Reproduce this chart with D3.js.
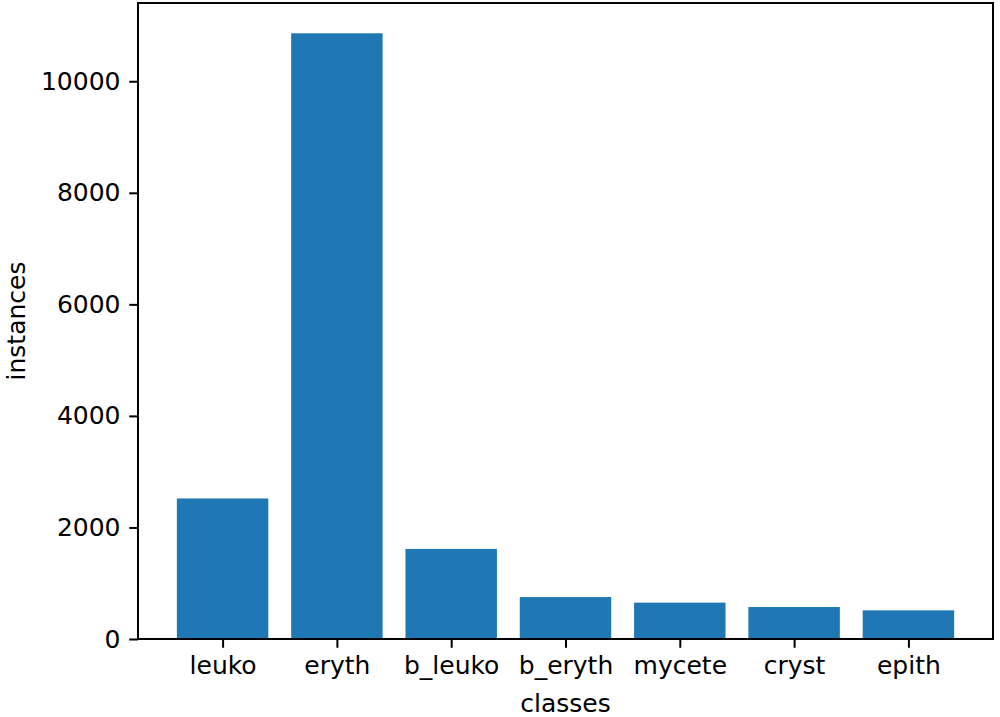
<!DOCTYPE html>
<html>
<head>
<meta charset="utf-8">
<script src="https://cdn.jsdelivr.net/npm/d3@7"></script>
<style>
  body { margin: 0; background: #fff; }
  text { font-family: "DejaVu Sans", sans-serif; fill: #000; }
</style>
</head>
<body>
<div class="vis"></div>
<script>
const classes = ["leuko", "eryth", "b_leuko", "b_eryth", "mycete", "cryst", "epith"];
const instances = [2520, 10860, 1615, 752, 652, 573, 514];
const yTicks = [0, 2000, 4000, 6000, 8000, 10000];

const W = 1000, H = 717;
const margin = { top: 3, right: 7, bottom: 78, left: 138 };
const width = W - margin.left - margin.right;
const height = H - margin.top - margin.bottom;
const fontSize = 25;

const svg = d3.select(".vis")
  .append("svg")
  .attr("width", W)
  .attr("height", H);

const g = svg.append("g")
  .attr("transform", "translate(" + margin.left + "," + margin.top + ")");

// matplotlib-like linear x with 5% margins around bars of width 0.8
const x = d3.scaleLinear()
  .domain([-0.4 - 0.34, classes.length - 1 + 0.4 + 0.34])
  .range([0, width]);

const y = d3.scaleLinear()
  .domain([0, d3.max(instances) * 1.05])
  .range([height, 0]);

g.append("g")
  .selectAll("rect")
  .data(classes)
  .join("rect")
  .attr("x", (d, i) => x(i - 0.4))
  .attr("y", (d, i) => y(instances[i]))
  .attr("width", x(0.8) - x(0))
  .attr("height", (d, i) => y(0) - y(instances[i]))
  .style("fill", "#1f77b4");

const tickLen = 8.75, pad = 8.75;

const yAxis = g.append("g")
  .call(d3.axisLeft(y).tickValues(yTicks).tickFormat(d3.format("d"))
    .tickSize(tickLen).tickPadding(pad).tickSizeOuter(0));
yAxis.select(".domain").remove();
yAxis.selectAll("line").attr("stroke", "#000").attr("stroke-width", 2);
yAxis.selectAll("text").style("font-size", fontSize + "px").attr("fill", "#000");

const xAxis = g.append("g")
  .attr("transform", `translate(0,${height})`)
  .call(d3.axisBottom(x).tickValues(d3.range(classes.length))
    .tickFormat((i) => classes[i])
    .tickSize(tickLen).tickPadding(pad).tickSizeOuter(0));
xAxis.select(".domain").remove();
xAxis.selectAll("line").attr("stroke", "#000").attr("stroke-width", 2);
xAxis.selectAll("text").style("font-size", fontSize + "px").attr("fill", "#000");

// frame
g.append("rect")
  .attr("x", 0).attr("y", 0)
  .attr("width", width).attr("height", height)
  .attr("fill", "none").attr("stroke", "#000").attr("stroke-width", 2);

svg.append("text")
  .attr("x", margin.left + width / 2)
  .attr("y", 712)
  .attr("text-anchor", "middle")
  .style("font-size", fontSize + "px")
  .text("classes");

svg.append("text")
  .attr("transform", `translate(25,${margin.top + height / 2}) rotate(-90)`)
  .attr("text-anchor", "middle")
  .style("font-size", fontSize + "px")
  .text("instances");
</script>
</body>
</html>
